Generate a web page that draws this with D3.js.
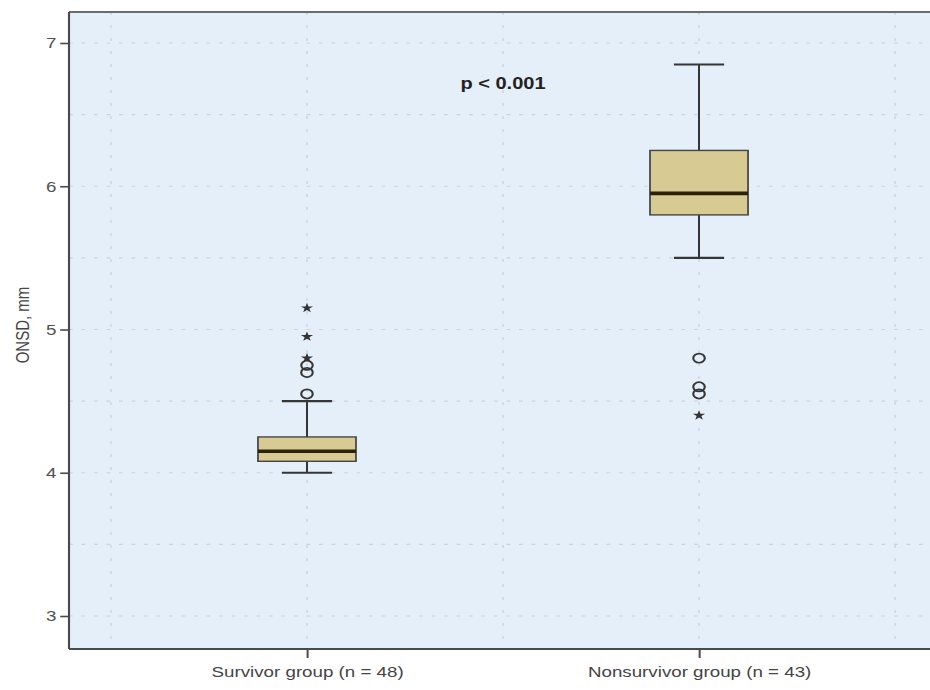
<!DOCTYPE html>
<html>
<head>
<meta charset="utf-8">
<script src="https://cdn.jsdelivr.net/npm/d3@7"></script>
<style>
  html, body { margin: 0; padding: 0; background: #ffffff; }
  svg { display: block; }
  text { font-family: "Liberation Sans", Arial, sans-serif; }
</style>
</head>
<body>
<svg id="chart" width="930" height="690"></svg>
<script>
// Optic nerve sheath diameter by outcome group
const groups = ["Survivor group (n = 48)", "Nonsurvivor group (n = 43)"];
const whiskerLow  = [4.00, 5.50];
const q1          = [4.08, 5.80];
const median      = [4.15, 5.95];
const q3          = [4.25, 6.25];
const whiskerHigh = [4.50, 6.85];
// mild outliers (circles) and extreme values (stars)
const outliers = [[4.55, 4.70, 4.75], [4.80, 4.60, 4.55]];
const extremes = [[4.80, 4.95, 5.15], [4.40]];
const yTicks = [3, 4, 5, 6, 7];
const yGrid = [3, 3.5, 4, 4.5, 5, 5.5, 6, 6.5, 7];
const yTitle = "ONSD, mm";
const annotation = "p < 0.001";

// The whole figure is drawn slightly widened horizontally
const SX = 1.25;
const frame = { left: 55.2, right: 749.6, top: 12, bottom: 649 };

const svg = d3.select("#chart");
const g = svg.append("g").attr("transform", `scale(${SX},1)`);

const x = d3.scalePoint().domain(groups)
  .range([frame.left, frame.right]).padding(0.607);
const y = d3.scaleLinear().domain([3, 7]).range([616, 43]);
const step = x.step();

// plot background
g.append("rect")
  .attr("x", frame.left).attr("y", frame.top)
  .attr("width", frame.right - frame.left).attr("height", frame.bottom - frame.top)
  .attr("fill", "#e5effa");

// grid
const gridColor = "#cad3de";
g.append("g").selectAll("line").data(yGrid).join("line")
  .attr("x1", frame.left).attr("x2", frame.right)
  .attr("y1", d => y(d)).attr("y2", d => y(d))
  .attr("stroke", gridColor).attr("stroke-width", 1.1)
  .attr("stroke-dasharray", "3,7");
const xGrid = [];
groups.forEach(gr => { xGrid.push(x(gr) - step / 2, x(gr)); });
xGrid.push(x(groups[groups.length - 1]) + step / 2);
g.append("g").selectAll("line").data(xGrid).join("line")
  .attr("x1", d => d).attr("x2", d => d)
  .attr("y1", frame.top).attr("y2", frame.bottom)
  .attr("stroke", gridColor).attr("stroke-width", 1.1)
  .attr("stroke-dasharray", "3,10");

// frame
const frameColor = "#4a4a4a";
g.append("line").attr("x1", frame.left).attr("x2", frame.right + 20)
  .attr("y1", frame.top).attr("y2", frame.top)
  .attr("stroke", "#6b6b6b").attr("stroke-width", 2);
g.append("line").attr("x1", frame.left).attr("x2", frame.right + 20)
  .attr("y1", frame.bottom).attr("y2", frame.bottom)
  .attr("stroke", frameColor).attr("stroke-width", 2);
g.append("line").attr("x1", frame.left).attr("x2", frame.left)
  .attr("y1", frame.top).attr("y2", frame.bottom)
  .attr("stroke", frameColor).attr("stroke-width", 1.7);

// y axis
const yAxis = g.append("g").attr("transform", `translate(${frame.left},0)`)
  .call(d3.axisLeft(y).tickValues(yTicks).tickFormat(d3.format("d"))
    .tickSize(7).tickPadding(3));
yAxis.select(".domain").remove();
yAxis.selectAll(".tick line").attr("stroke", frameColor).attr("stroke-width", 1.6);
yAxis.selectAll(".tick text")
  .attr("font-size", 15).attr("fill", "#505050")
  .attr("font-family", "Liberation Sans, Arial, sans-serif");

// x axis
const xAxis = g.append("g").attr("transform", `translate(0,${frame.bottom})`)
  .call(d3.axisBottom(x).tickSize(9).tickPadding(8));
xAxis.select(".domain").remove();
xAxis.selectAll(".tick line").attr("stroke", frameColor).attr("stroke-width", 1.6);
xAxis.selectAll(".tick text")
  .attr("font-size", 15).attr("fill", "#444")
  .attr("font-family", "Liberation Sans, Arial, sans-serif");

// y title
g.append("text")
  .attr("transform", "translate(23.2,325) rotate(-90)")
  .attr("text-anchor", "middle")
  .attr("font-size", 15).attr("fill", "#444")
  .text(yTitle);

// boxes
const boxW = step * 0.25;
const capW = step * 0.128;
const ink = "#363636";
const boxes = g.append("g").selectAll("g").data(groups).join("g");

boxes.append("line")
  .attr("x1", d => x(d)).attr("x2", d => x(d))
  .attr("y1", (d, i) => y(whiskerLow[i])).attr("y2", (d, i) => y(whiskerHigh[i]))
  .attr("stroke", ink).attr("stroke-width", 1.6);
[whiskerLow, whiskerHigh].forEach(arr => {
  boxes.append("line")
    .attr("x1", d => x(d) - capW / 2).attr("x2", d => x(d) + capW / 2)
    .attr("y1", (d, i) => y(arr[i])).attr("y2", (d, i) => y(arr[i]))
    .attr("stroke", ink).attr("stroke-width", 2.2);
});
boxes.append("rect")
  .attr("x", d => x(d) - boxW / 2).attr("width", boxW)
  .attr("y", (d, i) => y(q3[i])).attr("height", (d, i) => y(q1[i]) - y(q3[i]))
  .attr("fill", "#d7ca93").attr("stroke", "#454545").attr("stroke-width", 1.4);
boxes.append("line")
  .attr("x1", d => x(d) - boxW / 2).attr("x2", d => x(d) + boxW / 2)
  .attr("y1", (d, i) => y(median[i])).attr("y2", (d, i) => y(median[i]))
  .attr("stroke", "#2b2309").attr("stroke-width", 3.6);

// outliers
const outPts = [];
groups.forEach((gr, i) => outliers[i].forEach(v => outPts.push({ g: gr, v })));
g.append("g").selectAll("circle").data(outPts).join("circle")
  .attr("cx", d => x(d.g)).attr("cy", d => y(d.v)).attr("r", 4.6)
  .attr("fill", "none").attr("stroke", ink).attr("stroke-width", 1.7);

const extPts = [];
groups.forEach((gr, i) => extremes[i].forEach(v => extPts.push({ g: gr, v })));
const star = d3.symbol().type(d3.symbolStar).size(30);
g.append("g").selectAll("path").data(extPts).join("path")
  .attr("transform", d => `translate(${x(d.g)},${y(d.v)})`)
  .attr("d", star)
  .attr("fill", "#333");

// significance note
g.append("text")
  .attr("x", (x(groups[0]) + x(groups[1])) / 2).attr("y", 89)
  .attr("text-anchor", "middle")
  .attr("font-size", 16).attr("font-weight", "bold").attr("fill", "#222")
  .text(annotation);
</script>
</body>
</html>
